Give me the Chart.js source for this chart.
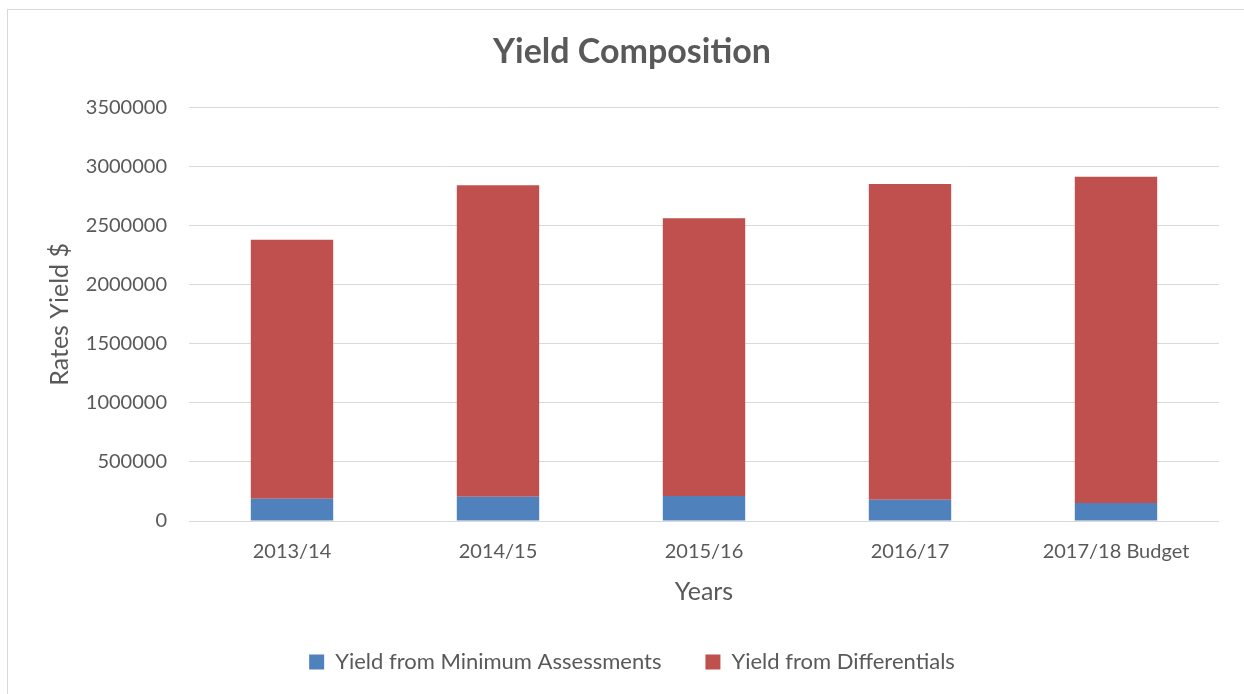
<!DOCTYPE html>
<html>
<head>
<meta charset="utf-8">
<script src="https://cdn.jsdelivr.net/npm/chart.js@4.4.0/dist/chart.umd.min.js"></script>
<style>
  html, body { margin: 0; padding: 0; background: #fff; }
  #wrap { position: relative; width: 1244px; height: 694px; overflow: hidden; }
  #frame { position: absolute; left: 7px; top: 9px; width: 1260px; height: 700px; border: 1px solid #D9D9D9; box-sizing: border-box; }
  canvas { position: absolute; left: 0; top: 0; }
</style>
</head>
<body>
<div id="wrap">
  <div id="frame"></div>
  <canvas id="chart" width="1244" height="694"></canvas>
</div>
<script>
// Data
const years = ['2013/14', '2014/15', '2015/16', '2016/17', '2017/18 Budget'];
const minAssessments = [189000, 206000, 211000, 180000, 152000];
const differentials = [2193000, 2637000, 2354000, 2674000, 2764000];
const yTicks = [0, 500000, 1000000, 1500000, 2000000, 2500000, 3000000, 3500000];

const textColor = '#595959';
const gridColor = '#D9D9D9';
const fontFamily = 'Lato, "Open Sans", sans-serif';

Chart.defaults.font.family = fontFamily;
Chart.defaults.color = textColor;

const ctx = document.getElementById('chart');

new Chart(ctx, {
  type: 'bar',
  data: {
    labels: years,
    datasets: [
      {
        label: 'Yield from Minimum Assessments',
        data: minAssessments,
        backgroundColor: '#4F81BD',
        borderWidth: 0
      },
      {
        label: 'Yield from Differentials',
        data: differentials,
        backgroundColor: '#C0504D',
        borderWidth: 0
      }
    ]
  },
  options: {
    responsive: false,
    animation: false,
    layout: {
      padding: { left: 45, right: 25, top: 32, bottom: 11 }
    },
    datasets: {
      bar: { barPercentage: 0.4, categoryPercentage: 1.0 }
    },
    plugins: {
      title: {
        display: true,
        text: 'Yield Composition',
        color: textColor,
        font: { size: 34, weight: 'bold' },
        padding: { top: 0, bottom: 35 }
      },
      legend: {
        position: 'bottom',
        labels: {
          color: textColor,
          font: { size: 22 },
          boxWidth: 15,
          boxHeight: 15,
          padding: 44
        }
      },
      tooltip: { enabled: false }
    },
    scales: {
      x: {
        stacked: true,
        afterFit: function(scale) {
          scale.height = 86;
        },
        grid: { display: false, drawTicks: false },
        border: { display: false },
        ticks: {
          color: textColor,
          font: { size: 20 },
          padding: 19,
          maxRotation: 0
        },
        title: {
          display: true,
          text: 'Years',
          color: textColor,
          font: { size: 25 },
          padding: { top: 13, bottom: 0 }
        }
      },
      y: {
        stacked: true,
        min: 0,
        max: 3500000,
        afterBuildTicks: function(scale) {
          scale.ticks = yTicks.map(v => ({ value: v }));
        },
        afterFit: function(scale) {
          scale.width = 144;
        },
        grid: { color: gridColor, lineWidth: 1, drawTicks: false },
        border: { display: false },
        ticks: {
          color: textColor,
          font: { size: 20 },
          padding: 22,
          callback: function(value) {
            return String(value);
          }
        },
        title: {
          display: true,
          text: 'Rates Yield $',
          color: textColor,
          font: { size: 25 },
          padding: { top: 0, bottom: 0 }
        }
      }
    }
  }
});
</script>
</body>
</html>
